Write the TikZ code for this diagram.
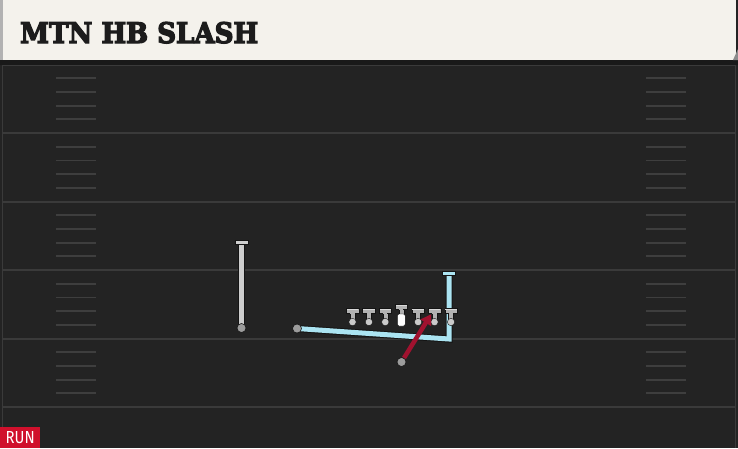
\documentclass[tikz,border=0pt]{standalone}
\usepackage{fontspec}
\usetikzlibrary{arrows.meta}
\newfontfamily\titlefont{DejaVu Serif}[BoldFeatures={FakeBold=4.5}]
\newfontfamily\runfont{Fira Sans}
\definecolor{fieldbg}{HTML}{232323}
\definecolor{yardc}{HTML}{3A3A3A}
\definecolor{hashc}{HTML}{3E3E3E}
\definecolor{cream}{HTML}{F4F2EC}
\definecolor{titletext}{HTML}{1C1C1C}
\definecolor{outl}{HTML}{141414}
\definecolor{tgray}{HTML}{B2B2B2}
\definecolor{cgray}{HTML}{CACACA}
\definecolor{routegray}{HTML}{CDCDCD}
\definecolor{routeblue}{HTML}{ABE4F2}
\definecolor{routered}{HTML}{A0122F}
\definecolor{dotgray}{HTML}{9C9C9C}
\definecolor{runred}{HTML}{D0102C}
\pgfdeclarelayer{routes}
\pgfdeclarelayer{front}
\pgfsetlayers{routes,main,front}
\tikzset{
  yardline/.style={yardc, line width=2pt},
  hashline/.style={hashc, line width=1.8pt},
  startdot/.style={circle, fill=dotgray, draw=outl, line width=0.6pt, minimum size=9pt, inner sep=0pt},
  grayroute/.style={routegray, line width=4.5pt, preaction={draw=outl, line width=6.5pt}},
  blueroute/.style={routeblue, line width=5pt, line join=miter, preaction={draw=outl, line width=7pt}},
  redroute/.style={routered, line width=4.5pt, -{Triangle[width=12pt,length=10pt]}, shorten >=-2pt},
  capbar/.style={draw=outl, line width=0.6pt},
  player/.pic={
    \filldraw[fill=tgray, draw=outl, line width=0.4pt] (-2.5,4) rectangle (2.5,14);
    \filldraw[fill=tgray, draw=outl, line width=0.4pt] (-6.3,0) rectangle (6.3,5);
    \fill[tgray!50!white] (-5.8,0.5) rectangle (5.8,2.2);
    \fill[tgray] (-2.1,3) rectangle (2.1,6);
    \filldraw[fill=cgray, draw=outl, line width=0.4pt] (0,14) circle (3.7);
  },
  centerpl/.pic={
    \filldraw[fill=tgray, draw=outl, line width=0.4pt] (-2.5,4) rectangle (2.5,11);
    \filldraw[fill=tgray, draw=outl, line width=0.4pt] (-6.3,0) rectangle (6.3,5);
    \fill[tgray!50!white] (-5.8,0.5) rectangle (5.8,2.2);
    \fill[tgray] (-2.1,3) rectangle (2.1,6);
    \filldraw[fill=white, draw=outl, line width=0.4pt, rounded corners=1.5pt] (-3.9,10) rectangle (3.9,22);
  }
}
\begin{document}
\begin{tikzpicture}[x=1pt,y=-1pt]
\useasboundingbox (0,0) rectangle (738,448);
\begin{pgfonlayer}{routes}
  \fill[fieldbg] (0,0) rectangle (738,448);
  % side edges
  \draw[yardc, line width=1.2pt] (2.5,60) -- (2.5,448);
  \draw[yardc, line width=1.2pt] (735.5,60) -- (735.5,448);
  % yard lines
  \foreach \k in {0,...,5} {
    \draw[yardline] (2.5,{64.5+68.5*\k}) -- (735.5,{64.5+68.5*\k});
  }
  % hash marks
  \foreach \k in {0,...,4} {
    \foreach \j in {1,...,4} {
      \draw[hashline] (56,{64.5+68.5*\k+13.7*\j}) -- (96,{64.5+68.5*\k+13.7*\j});
      \draw[hashline] (646,{64.5+68.5*\k+13.7*\j}) -- (686,{64.5+68.5*\k+13.7*\j});
    }
  }
  % title bar
  \fill[black!90] (0,58) rectangle (738,65);
  \fill[cream] (0,0) rectangle (736,60);
  \fill[black!30] (0,0) rectangle (3,60);
  \fill[black!45] (738,49) -- (738,60) -- (733,60) -- cycle;
\end{pgfonlayer}

\node[anchor=base west, inner sep=0pt, text=titletext] (title) at (20,43)
  {\resizebox{238pt}{21pt}{\titlefont\bfseries MTN HB SLASH}};

% route start dots and route points
\node[startdot] (wr) at (241.5,328) {};
\coordinate (wrend) at (241.5,242);
\node[startdot] (mo) at (297,328.5) {};
\coordinate (bcorner) at (449,339);
\coordinate (btop) at (449,273);
\node[startdot] (rb) at (401.5,362) {};
\coordinate (rbtip) at (430,316);

\begin{pgfonlayer}{routes}
  \draw[grayroute] (wr.center) -- (wrend);
  \filldraw[fill=routegray, capbar] ([xshift=-6.5pt,yshift=2.2pt]wrend) rectangle ([xshift=6.5pt,yshift=-2.2pt]wrend);
  \draw[blueroute] (mo.center) -- (bcorner) -- (btop);
  \filldraw[fill=routeblue, capbar] ([xshift=-6.5pt,yshift=2.2pt]btop) rectangle ([xshift=6.5pt,yshift=-2.2pt]btop);
\end{pgfonlayer}

% offensive line and tight end
\pic at (352.5,308) {player};
\pic at (368.9,308) {player};
\pic at (385.3,308) {player};
\pic at (401.3,304) {centerpl};
\pic at (418.1,308) {player};
\pic at (434.5,308) {player};
\pic at (451,308) {player};

\begin{pgfonlayer}{front}
  \draw[redroute] (rb) -- (rbtip);
\end{pgfonlayer}

\node[fill=runred, anchor=south west, minimum width=40pt, minimum height=21pt, inner sep=0pt, text=white] (run) at (0,448)
  {\resizebox{29pt}{12pt}{\runfont RUN}};
\end{tikzpicture}
\end{document}
